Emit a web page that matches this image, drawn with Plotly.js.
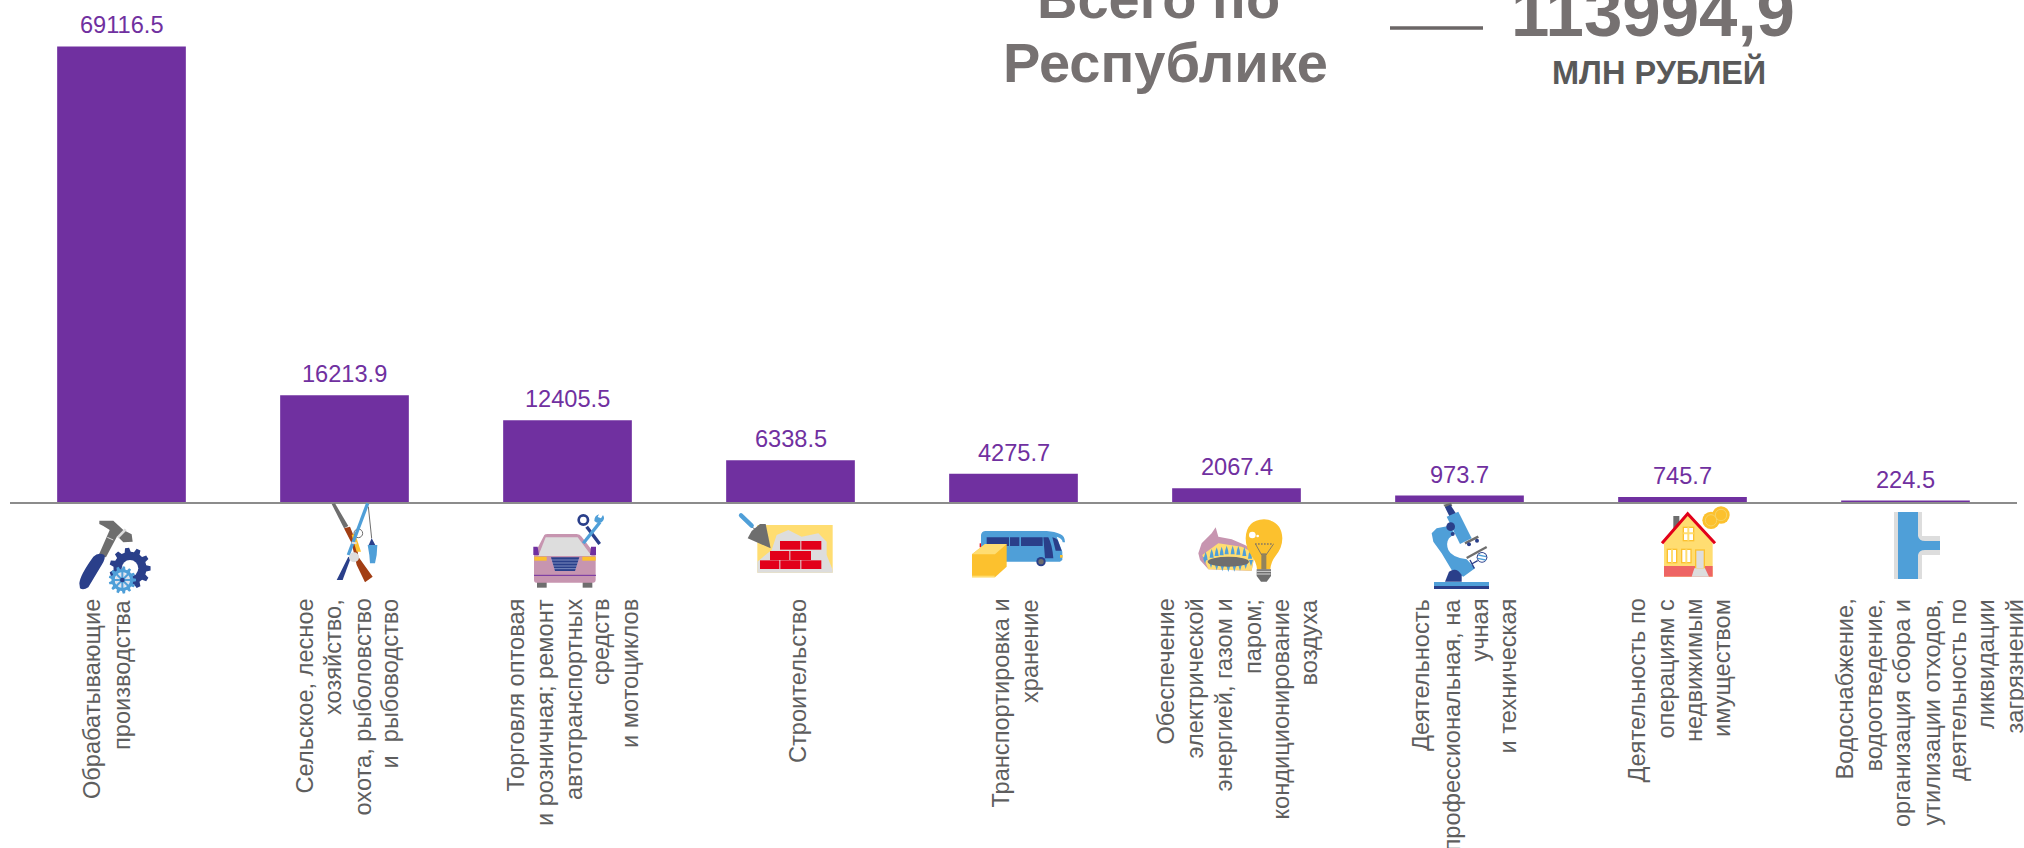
<!DOCTYPE html>
<html><head><meta charset="utf-8">
<script src="https://cdn.plot.ly/plotly-3.0.1.min.js"></script>
<style>html,body{margin:0;padding:0;background:#fff;overflow:hidden}#c{width:2024px;height:848px}</style>
</head><body><div id="c"></div>
<script>
const categoryLines = [
 ["Обрабатывающие","производства"],
 ["Сельское, лесное","хозяйство,","охота, рыболовство","и  рыбоводство"],
 ["Торговля оптовая","и розничная; ремонт","автотранспортных","средств","и мотоциклов"],
 ["Строительство"],
 ["Транспортировка и","хранение"],
 ["Обеспечение","электрической","энергией, газом и","паром;","кондиционирование","воздуха"],
 ["Деятельность","профессиональная, на","учная","и техническая"],
 ["Деятельность по","операциям с","недвижимым","имуществом"],
 ["Водоснабжение,","водоотведение,","организация сбора и","утилизации отходов,","деятельность по","ликвидации","загрязнений"]
];
const values = [69116.5,16213.9,12405.5,6338.5,4275.7,2067.4,973.7,745.7,224.5];
const valueLabels = ["69116.5","16213.9","12405.5","6338.5","4275.7","2067.4","973.7","745.7","224.5"];
const categories = categoryLines.map(l=>l.join(" "));

// layout helpers (page pixels)
const W=2024,H=848,L=10,R=2017,B=502;
const px=x=>(x-L)/(R-L), py=y=>1-y/B;
const lineCenters=[[92,121.5],[304,333,362,389.5],[515,544.5,573.5,601,629.5],[798],[1000,1030],[1165.5,1194.5,1223,1252.5,1280,1308],[1421,1451,1479,1507],[1636.5,1665.5,1693.5,1722],[1844,1873,1902,1931,1958,1986,2014]];
const LABEL_TOP=598;

const BLUE='#4F9FD8',NAVY='#2A3F8A',GRAY='#6E6E6E',LG='#DDDDDD',YEL='#FCC12E',LY='#FFDD71',RED='#E2001A',PINK='#C795B0',BROWN='#A23E14';
// icon shapes are authored in crop pixels (3x), scaled down by the group transform
function gear(cx,cy,r,n,fill,hole){let p='';for(let i=0;i<n*2;i++){for(const o of[-.35,.35]){const a=(i+o)*Math.PI/n,R2=i%2?r*.8:r;p+=(p?'L':'M')+(cx+R2*Math.cos(a)).toFixed(1)+' '+(cy+R2*Math.sin(a)).toFixed(1)}}return `<path d="${p}Z" fill="${fill}"/>`+(hole?`<circle cx="${cx}" cy="${cy}" r="${r*hole}" fill="#fff"/>`:'');}
function flames(){let s='';const top=[[722,133],[740,125],[755,120],[770,118],[785,115],[803,115],[820,116],[838,120],[855,128]],bot=[[720,152],[738,165],[755,172],[772,175],[790,177],[808,176],[825,173],[842,168],[858,160]];
 top.forEach(([x,y])=>s+=`<path d="M${x-6} ${y+18}Q${x-5} ${y+4} ${x} ${y-8}Q${x+5} ${y+4} ${x+6} ${y+18}Z" fill="${BLUE}"/>`);
 bot.forEach(([x,y])=>s+=`<path d="M${x-6} ${y-10}L${x} ${y+9}L${x+6} ${y-10}Z" fill="${BLUE}"/>`);return s;}
const icons=[
 {b:[70,500,160,595],dx:0,s:`<path d="M85 168L120 88L145 102L108 172Z" fill="${GRAY}"/><path d="M28 250Q30 225 70 170Q85 155 103 165Q108 175 95 195L55 262Q40 272 30 265Z" fill="${NAVY}"/><path d="M88 62H130L160 90L185 103L188 125L160 127L130 97L100 78L88 72Z" fill="${GRAY}"/><path d="M143 113L167 88" stroke="${LG}" stroke-width="8"/><path d="M112 112L130 120" stroke="${LG}" stroke-width="3"/>${gear(180,205,62,11,NAVY,.4)}${gear(157,240,41,13,BLUE,0)}<circle cx="157" cy="240" r="23" fill="#fff"/><circle cx="157" cy="240" r="22" fill="${NAVY}" opacity=".15"/><path d="M157 214V266M131 240H183M139 222L175 258M175 222L139 258" stroke="${BLUE}" stroke-width="6"/><circle cx="157" cy="240" r="7" fill="${NAVY}"/>`},
 {b:[330,500,382,585],dx:-780,s:`<path d="M785 12L795 10L835 78L822 85Z" fill="${GRAY}"/><path d="M822 85L840 80L860 130L865 170L908 230L885 247L860 195L845 130Z" fill="${BROWN}"/><path d="M845 105L855 100L873 155L860 155Z" fill="${YEL}"/><circle cx="865" cy="100" r="13" fill="none" stroke="${GRAY}" stroke-width="3"/><path d="M893 10L835 165" stroke="${BLUE}" stroke-width="10"/><path d="M835 170L800 240L818 240L842 175Z" fill="${NAVY}"/><path d="M895 20L905 115" stroke="${GRAY}" stroke-width="3"/><path d="M905 115L895 137H917Z" fill="${NAVY}"/><path d="M893 135H922L920 165L915 190H900L898 165Z" fill="${BLUE}"/><circle cx="852" cy="172" r="15" fill="${LG}"/><path d="M845 128L860 130" stroke="${LG}" stroke-width="6"/>`},
 {b:[525,505,612,590],dx:0,s:`<rect x="36" y="230" width="29" height="18" fill="${GRAY}"/><rect x="173" y="230" width="29" height="18" fill="${GRAY}"/><path d="M58 90Q60 87 68 87H155Q165 87 170 95L212 150V226Q212 233 205 233H33Q27 233 27 226V150Z" fill="${PINK}"/><path d="M62 97H158L200 153H40Z" fill="${LG}"/><path d="M25 125H38L42 150H25Z" fill="#7030A0"/><path d="M198 125H213V150H195Z" fill="#7030A0"/><rect x="28" y="155" width="37" height="12" fill="${YEL}"/><rect x="172" y="155" width="40" height="12" fill="${YEL}"/><path d="M78 157H163L150 198H90Z" fill="${NAVY}"/><path d="M78 165H163M81 174H160M84 183H157M87 191H153" stroke="#A6B2DA" stroke-width="2"/><path d="M27 211H213" stroke="#7030A0" stroke-width="3"/><path d="M185 65L224 117" stroke="${NAVY}" stroke-width="10"/><circle cx="175" cy="45" r="14" fill="none" stroke="${NAVY}" stroke-width="8"/><path d="M175 115L225 52" stroke="${BLUE}" stroke-width="10"/><path d="M208 48Q218 58 230 52Q242 42 234 30L228 40L218 36L222 28Q208 32 208 48Z" fill="${BLUE}"/>`},
 {b:[735,505,840,575],dx:-630,s:`<rect x="697" y="60" width="226" height="143" fill="${LY}"/><path d="M697 203V170L740 135L755 90L790 75L830 95L880 85L905 110L905 150L923 195V203Z" fill="${LG}"/><g fill="${RED}"><rect x="765" y="108" width="61" height="26"/><rect x="829" y="108" width="60" height="26"/><rect x="735" y="138" width="58" height="27"/><rect x="796" y="138" width="62" height="27"/><rect x="705" y="166" width="58" height="26"/><rect x="766" y="166" width="60" height="26"/><rect x="829" y="166" width="60" height="26"/></g><path d="M705 57H722L737 130L668 100L680 78Z" fill="${GRAY}"/><path d="M675 62L692 74" stroke="${GRAY}" stroke-width="3"/><path d="M648 31L680 62" stroke="${BLUE}" stroke-width="13" stroke-linecap="round"/>`},
 {b:[965,510,1070,590],dx:0,s:`<rect x="44" y="100" width="6" height="12" fill="${RED}"/><path d="M48 75Q50 63 62 63H245Q270 65 285 72Q300 78 300 97L293 97Q292 85 275 80L292 125V150L285 155H48Z" fill="${BLUE}"/><path d="M65 82H132V108H65ZM135 82H163V108H135ZM168 82H233V108H168ZM235 82H250Q262 105 265 145H240ZM262 82Q272 84 278 90L290 122H272Z" fill="${NAVY}"/><rect x="285" y="135" width="8" height="8" fill="${YEL}"/><circle cx="228" cy="155" r="14" fill="${NAVY}"/><circle cx="228" cy="155" r="8" fill="${GRAY}"/><path d="M21 133L60 102H125V170L90 202H21Z" fill="${YEL}"/><path d="M21 133L60 102H125L90 133Z" fill="${LY}"/><rect x="21" y="197" width="68" height="5" fill="${LY}"/>`},
 {b:[1195,510,1290,590],dx:-690,s:`<path d="M700 130L710 100L740 70L752 52L760 80L800 88L840 105L870 125L860 182L730 178L705 150Z" fill="${PINK}"/><path d="M712 135L760 100L830 110L870 130L860 182L730 178Z" fill="${LY}"/>${flames()}<ellipse cx="790" cy="155" rx="62" ry="15" fill="${GRAY}"/><path d="M897 28Q950 32 952 85Q952 115 930 140Q918 155 916 178H876Q874 155 860 138Q842 115 842 85Q844 30 897 28Z" fill="${YEL}"/><circle cx="862" cy="75" r="10" fill="#fff"/><circle cx="878" cy="78" r="4" fill="#fff"/><path d="M870 102H925" stroke="${NAVY}" stroke-width="2.5" stroke-dasharray="5 4"/><path d="M872 103L890 135M925 103L903 135" stroke="${GRAY}" stroke-width="2.5"/><rect x="889" y="130" width="15" height="48" fill="${GRAY}" opacity=".75"/><path d="M875 178H918V198L905 215H888L875 198Z" fill="${GRAY}"/><path d="M875 184H918M876 192H917" stroke="#eee" stroke-width="2.5"/>`},
 {b:[1425,500,1495,592],dx:0,s:`<path d="M55 14L78 8L82 18L62 24Z" fill="${GRAY}"/><path d="M60 22L76 14L94 42L74 50Z" fill="${NAVY}"/><path d="M65 50L100 35L140 115L105 132Z" fill="${BLUE}"/><path d="M20 100L35 85L70 78L90 100L72 115Q62 130 70 150Q80 172 125 178L150 205L115 230L80 210L50 160L25 125Z" fill="${BLUE}"/><circle cx="77" cy="80" r="13" fill="${NAVY}"/><circle cx="83" cy="102" r="6" fill="${NAVY}"/><path d="M120 130L160 110" stroke="${GRAY}" stroke-width="8"/><circle cx="132" cy="133" r="6" fill="${NAVY}"/><circle cx="156" cy="122" r="6" fill="${NAVY}"/><path d="M125 174L185 141" stroke="${GRAY}" stroke-width="7"/><path d="M135 180L148 205M140 192L158 182" stroke="${NAVY}" stroke-width="4"/><circle cx="171" cy="172" r="16" fill="${NAVY}"/><circle cx="171" cy="172" r="13" fill="#fff"/><path d="M160 165L183 170M158 175L182 180" stroke="${BLUE}" stroke-width="4"/><path d="M60 245L72 215Q95 200 110 225V245Z" fill="${NAVY}"/><rect x="27" y="246" width="165" height="12" fill="${BLUE}"/><rect x="27" y="258" width="165" height="9" fill="${NAVY}"/>`},
 {b:[1655,500,1735,580],dx:-690,s:`<rect x="745" y="48" width="18" height="40" fill="${GRAY}"/><path d="M717 125L788 45L863 125V230H717Z" fill="${LY}"/><rect x="717" y="198" width="146" height="32" fill="#EE6464"/><path d="M711 130L788 41L870 130" fill="none" stroke="${RED}" stroke-width="9"/><rect x="775" y="82" width="31" height="40" fill="#fff" stroke="${YEL}" stroke-width="4"/><path d="M790 82V122M775 100H806" stroke="${LY}" stroke-width="6"/><rect x="727" y="148" width="28" height="40" fill="#fff" stroke="${YEL}" stroke-width="4"/><path d="M741 148V188" stroke="${LY}" stroke-width="6"/><rect x="770" y="148" width="28" height="40" fill="#fff" stroke="${YEL}" stroke-width="4"/><path d="M784 148V188" stroke="${LY}" stroke-width="6"/><rect x="812" y="150" width="26" height="56" fill="${LG}" stroke="${YEL}" stroke-width="4"/><path d="M808 205H840L852 230H800Z" fill="${LG}"/><circle cx="888" cy="45" r="26" fill="${YEL}"/><circle cx="858" cy="61" r="26" fill="${YEL}"/><circle cx="858" cy="61" r="17" fill="none" stroke="#F7D364" stroke-width="3"/><circle cx="888" cy="45" r="17" fill="none" stroke="#F7D364" stroke-width="3"/>`},
 {b:[1894,512,1941,580],dx:0,s:`<g transform="scale(3)"><rect x="0" y="0" width="28" height="67" fill="${LG}"/><rect x="28" y="24" width="18" height="19" fill="${LG}"/><rect x="4" y="0" width="20" height="67" fill="${BLUE}"/><path d="M24 24Q25 29 31 29H46V38H31Q25 38 24 43Z" fill="${BLUE}"/></g>`}
];
const images=icons.map(ic=>{const[x0,y0,x1,y1]=ic.b,w=x1-x0,h=y1-y0;
 // dx shifts crop coordinates so they land inside this icon's box
 const svg=`<svg xmlns="http://www.w3.org/2000/svg" width="${w*3}" height="${h*3}" viewBox="0 0 ${w*3} ${h*3}"><g transform="translate(${ic.dx} 0)">${ic.s}</g></svg>`;
 return {source:'data:image/svg+xml;base64,'+btoa(svg),xref:'paper',yref:'paper',x:px(x0),y:py(y0),sizex:w/(R-L),sizey:h/B,xanchor:'left',yanchor:'top',sizing:'stretch',layer:'above'};});

const F='"Liberation Sans", Arial, sans-serif';
const ann=[];
values.forEach((v,i)=>ann.push({x:categories[i],y:v,xref:'x',yref:'y',text:valueLabels[i],showarrow:false,yanchor:'bottom',yshift:7,borderpad:0,font:{family:F,size:23.6,color:'#7030A0'}}));
categoryLines.forEach((ls,i)=>ls.forEach((t,j)=>ann.push({xref:'paper',yref:'paper',x:px(lineCenters[i][j]),y:py(LABEL_TOP),text:t,textangle:-90,showarrow:false,xanchor:'center',yanchor:'top',borderpad:0,font:{family:F,size:23.6,color:'#5E5E5E'}})));
const T='#767171';
ann.push({xref:'paper',yref:'paper',x:px(1158),y:py(18),text:'Всего по',showarrow:false,xanchor:'center',yanchor:'bottom',borderpad:0,yshift:-13,font:{family:F,size:56,color:T,weight:700}});
ann.push({xref:'paper',yref:'paper',x:px(1165),y:py(82),text:'Республике',showarrow:false,xanchor:'center',yanchor:'bottom',borderpad:0,yshift:-13,font:{family:F,size:56,color:T,weight:700}});
ann.push({xref:'paper',yref:'paper',x:px(1653),y:py(36),text:'113994,9',showarrow:false,xanchor:'center',yanchor:'bottom',borderpad:0,yshift:-16,font:{family:F,size:69,color:T,weight:700}});
ann.push({xref:'paper',yref:'paper',x:px(1659),y:py(85),text:'МЛН РУБЛЕЙ',showarrow:false,xanchor:'center',yanchor:'bottom',borderpad:0,yshift:-7,font:{family:F,size:32.5,color:'#595959',weight:700}});

Plotly.newPlot('c',[{type:'bar',x:categories,y:values,marker:{color:'#7030A0'},hoverinfo:'skip'}],{
 width:W,height:H,margin:{l:L,r:W-R,t:0,b:H-B,pad:0},paper_bgcolor:'#fff',plot_bgcolor:'#fff',showlegend:false,bargap:0.423,
 xaxis:{type:'category',categoryorder:'array',categoryarray:categories,showticklabels:false,ticks:'',showgrid:false,showline:true,linecolor:'#8C8C8C',linewidth:1.5,zeroline:false,fixedrange:true},
 yaxis:{range:[0,76170],visible:false,fixedrange:true},
 annotations:ann,images:images,
 shapes:[{type:'line',xref:'paper',yref:'paper',x0:px(1390),x1:px(1483),y0:py(28),y1:py(28),line:{color:'#6B6666',width:3.5}}]
},{displayModeBar:false,staticPlot:true});
</script></body></html>
